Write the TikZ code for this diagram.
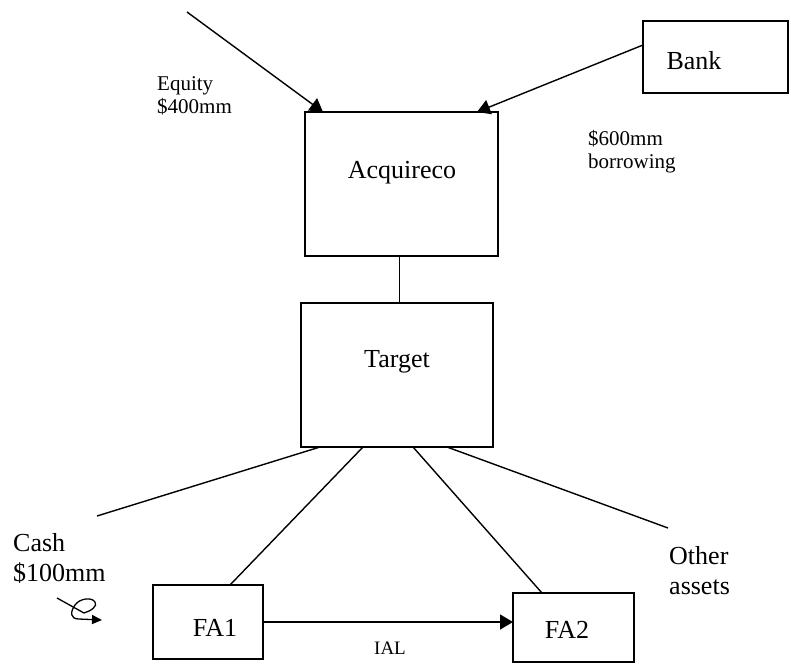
\documentclass[tikz,border=0pt]{standalone}
\usepackage{fontspec}
\setmainfont{Liberation Serif}
\usetikzlibrary{arrows.meta,calc}
\begin{document}
\begin{tikzpicture}[x=1pt,y=-1pt,
  box/.style={draw,line width=1.6pt,rectangle,inner sep=0pt,outer sep=0pt},
  conn/.style={line width=1.4pt},
  arr/.style={line width=1.4pt,-{Triangle[length=13pt,width=15pt]}},
  big/.style={font=\fontsize{26}{30}\selectfont,inner sep=0pt},
  small/.style={font=\fontsize{21}{23}\selectfont,inner sep=0pt,align=left,anchor=west},
  bigl/.style={font=\fontsize{26}{30}\selectfont,inner sep=0pt,align=left,anchor=west}]
\useasboundingbox (0,0) rectangle (791,664);
% boxes
\node[box,minimum width=193pt,minimum height=144pt] (acq) at (401.5,184) {};
\node[box,minimum width=192pt,minimum height=144pt] (tgt) at (397,375) {};
\node[box,minimum width=145pt,minimum height=72pt] (bank) at (715.5,57) {};
\node[box,minimum width=110pt,minimum height=74pt] (fa1) at (208,622) {};
\node[box,minimum width=121pt,minimum height=69pt] (fa2) at (573.5,627.5) {};
% box texts
\node[big] (acqt) at (402,173) {Acquireco};
\node[big] (tgtt) at (397,362) {Target};
\node[big] (bankt) at (694,61) {Bank};
\node[big] (fa1t) at (215,628) {FA1};
\node[big] (fa2t) at (567,630) {FA2};
% labels
\node[small] (eq) at (157,96) {Equity\\\$400mm};
\node[small] (bor) at (588,152) {\$600mm\\borrowing};
\node[bigl] (cash) at (13,558) {Cash\\\$100mm};
\node[bigl] (oth) at (669,571) {Other\\assets};
\node[font=\fontsize{19}{22}\selectfont,inner sep=0pt] (ial) at (390,648) {IAL};
% free ends and anchor points
\coordinate (eqs) at (187,12);
\coordinate (cashend) at (97,516);
\coordinate (othend) at (668,528);
\coordinate (acqbot) at ($(acq.south)+(-2,0)$);
% connectors
\draw[arr] (eqs) -- ($(acq.north west)+(18,0)$);
\draw[arr] ($(bank.west)+(0,-12)$) -- ($(acq.north east)+(-21,0)$);
\draw[conn] (acqbot) -- (acqbot |- tgt.north);
\draw[conn] ($(tgt.south west)+(19,0)$) -- (cashend);
\draw[conn] ($(tgt.south west)+(62,0)$) -- ($(fa1.north west)+(77,0)$);
\draw[conn] ($(tgt.south west)+(112,0)$) -- ($(fa2.north west)+(29,0)$);
\draw[conn] ($(tgt.south west)+(146,0)$) -- (othend);
\draw[arr] (fa1.east) -- (fa1.east -| fa2.west);
% squiggle
\draw[line width=1.3pt] (57,598) -- (84,613);
\draw[line width=1.3pt,-{Triangle[length=10pt,width=9pt]}]
  (84,613) .. controls (91,611) and (98,606) .. (95,602)
  .. controls (92,597) and (80,598) .. (75,605)
  .. controls (70,612) and (70,619) .. (79,619) -- (102,620);
\end{tikzpicture}
\end{document}
